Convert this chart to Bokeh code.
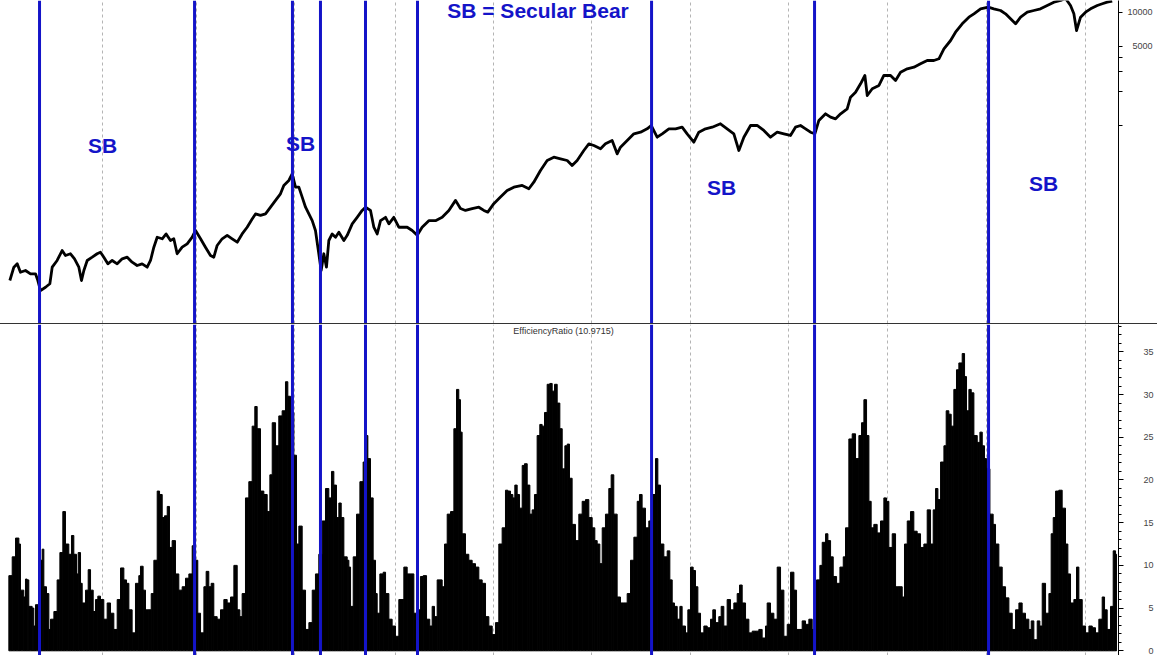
from bokeh.plotting import figure
from bokeh.models import Range1d, Span, FixedTicker, SingleIntervalTicker, BasicTickFormatter, ColumnDataSource, Label, Div
from bokeh.layouts import column
from bokeh.embed import file_html
from bokeh.resources import INLINE

BLUE = "#1414c8"
FONT = "Liberation Sans"

# ---- Dow Jones Industrial Average (log scale) ----
dow_years = [
    1900.57, 1900.98, 1901.32, 1901.65, 1902.16, 1902.67, 1903.18, 1903.42, 1903.69, 1904.20,
    1904.64, 1904.88, 1905.38, 1905.89, 1906.23, 1906.74, 1907.15, 1907.59, 1907.86, 1908.10,
    1908.44, 1908.95, 1909.45, 1909.79, 1910.13, 1910.54, 1910.98, 1911.49, 1912.00, 1912.51,
    1913.01, 1913.52, 1914.03, 1914.54, 1914.88, 1915.22, 1915.56, 1916.07, 1916.47, 1916.91,
    1917.25, 1917.59, 1918.10, 1918.61, 1919.12, 1919.46, 1919.97, 1920.47, 1920.98, 1921.32,
    1921.66, 1922.17, 1922.68, 1923.19, 1923.70, 1924.20, 1924.71, 1925.22, 1925.56, 1926.07,
    1926.58, 1927.09, 1927.60, 1928.10, 1928.44, 1928.95, 1929.29, 1929.63, 1929.97, 1930.31,
    1930.65, 1930.99, 1931.33, 1931.66, 1932.00, 1932.24, 1932.51, 1932.78, 1933.02, 1933.36,
    1933.70, 1934.04, 1934.55, 1934.89, 1935.40, 1935.90, 1936.41, 1936.75, 1937.26, 1937.60,
    1937.94, 1938.28, 1938.79, 1939.13, 1939.63, 1940.14, 1940.99, 1941.50, 1942.01, 1942.51,
    1943.19, 1943.87, 1944.55, 1945.23, 1945.91, 1946.41, 1946.92, 1947.60, 1948.28, 1948.79,
    1949.19, 1949.80, 1950.48, 1951.16, 1951.84, 1952.69, 1953.37, 1953.87, 1954.55, 1955.23,
    1955.91, 1956.59, 1957.27, 1957.77, 1958.28, 1958.96, 1959.47, 1959.98, 1960.66, 1961.16,
    1961.84, 1962.35, 1962.69, 1963.37, 1964.05, 1964.73, 1965.40, 1965.81, 1966.42, 1966.93,
    1967.61, 1968.29, 1968.96, 1969.47, 1970.15, 1970.66, 1971.34, 1972.02, 1972.86, 1973.54,
    1974.22, 1974.73, 1975.24, 1975.92, 1976.59, 1977.27, 1977.95, 1978.63, 1979.31, 1979.98,
    1980.49, 1981.00, 1981.52, 1982.02, 1982.46, 1982.87, 1983.55, 1984.06, 1984.57, 1985.08,
    1985.75, 1986.09, 1986.60, 1987.11, 1987.55, 1987.79, 1988.30, 1988.98, 1989.48, 1990.16,
    1990.67, 1991.18, 1991.86, 1992.54, 1993.21, 1993.89, 1994.57, 1995.08, 1995.59, 1996.27,
    1996.77, 1997.45, 1998.13, 1998.64, 1999.32, 2000.10, 2000.67, 2001.35, 2001.86, 2002.37,
    2002.88, 2003.39, 2004.07, 2004.74, 2005.42, 2006.10, 2006.78, 2007.46, 2007.96, 2008.47,
    2008.81, 2009.08, 2009.49, 2010.00, 2010.51, 2011.19, 2011.70, 2012.20, 2012.71,
]
dow_values = [
    42.2, 55.4, 59.3, 50.0, 51.8, 48.4, 48.4, 42.2, 34.4, 36.8,
    39.5, 55.4, 63.5, 77.8, 70.3, 72.8, 65.7, 55.4, 42.2, 51.8,
    63.5, 67.9, 72.8, 75.2, 67.9, 59.3, 63.5, 59.3, 65.7, 67.9,
    61.3, 57.3, 59.3, 55.4, 63.5, 83.2, 102, 98.8, 109, 95.4,
    98.8, 72.8, 83.2, 89.2, 102, 117, 98.8, 83.2, 70.3, 67.9,
    86.2, 98.8, 106, 98.8, 92.2, 109, 125, 148, 164, 159,
    164, 188, 216, 247, 293, 324, 371, 283, 283, 231,
    188, 164, 143, 117, 72.8, 51.8, 72.8, 55.4, 95.4, 109,
    102, 113, 95.4, 106, 134, 153, 176, 188, 176, 125,
    109, 143, 153, 134, 153, 125, 125, 117, 106, 125,
    143, 143, 153, 176, 216, 183, 176, 183, 188, 176,
    170, 202, 231, 264, 283, 293, 274, 313, 397, 487,
    521, 504, 487, 440, 487, 597, 684, 661, 618, 684,
    732, 558, 639, 732, 839, 867, 929, 994, 783, 839,
    929, 929, 960, 839, 707, 867, 929, 960, 1029, 929,
    839, 597, 783, 994, 994, 898, 783, 867, 839, 811,
    960, 994, 929, 867, 839, 1101, 1261, 1177, 1139, 1261,
    1397, 1769, 1959, 2324, 2753, 1831, 2100, 2246, 2753, 2753,
    2486, 2944, 3156, 3260, 3494, 3737, 3737, 3869, 4745, 5617,
    6653, 7896, 9031, 9678, 10715, 11070, 10715, 10351, 9678, 8743,
    7896, 9031, 10000, 10351, 10715, 11463, 12260, 12690, 13240, 11463,
    9678, 6887, 9031, 10000, 10715, 11463, 11866, 12260, 12510,
]

# ---- Efficiency Ratio histogram ----
er_years = [
    1900.47, 1900.81, 1901.15, 1901.49, 1901.65, 1901.99, 1902.16, 1902.33, 1902.50, 1902.84,
    1903.01, 1903.18, 1903.52, 1903.86, 1904.03, 1904.30, 1904.54, 1904.71, 1905.05, 1905.38,
    1905.66, 1905.96, 1906.23, 1906.57, 1906.84, 1907.08, 1907.35, 1907.52, 1907.76, 1907.93,
    1908.27, 1908.54, 1908.78, 1909.05, 1909.28, 1909.52, 1909.79, 1910.13, 1910.47, 1910.81,
    1911.15, 1911.49, 1911.83, 1912.17, 1912.44, 1912.68, 1913.01, 1913.35, 1913.69, 1913.86,
    1914.13, 1914.37, 1914.71, 1914.95, 1915.22, 1915.56, 1915.80, 1916.07, 1916.30, 1916.58,
    1916.81, 1917.08, 1917.42, 1917.76, 1918.10, 1918.44, 1918.78, 1919.12, 1919.46, 1919.69,
    1919.97, 1920.31, 1920.54, 1920.81, 1921.05, 1921.32, 1921.66, 1922.00, 1922.34, 1922.68,
    1923.02, 1923.36, 1923.70, 1923.97, 1924.20, 1924.54, 1924.88, 1925.22, 1925.49, 1925.73,
    1926.07, 1926.41, 1926.75, 1927.02, 1927.26, 1927.60, 1927.93, 1928.27, 1928.61, 1928.85,
    1929.12, 1929.46, 1929.73, 1929.97, 1930.31, 1930.65, 1930.99, 1931.33, 1931.66, 1932.00,
    1932.34, 1932.68, 1933.02, 1933.29, 1933.53, 1933.80, 1934.04, 1934.28, 1934.55, 1934.89,
    1935.06, 1935.23, 1935.50, 1935.84, 1936.18, 1936.51, 1936.75, 1936.99, 1937.26, 1937.53,
    1937.77, 1937.94, 1938.21, 1938.55, 1938.79, 1939.13, 1939.46, 1939.80, 1940.14,
    1940.65, 1940.99, 1941.33, 1941.67, 1942.01, 1942.34, 1942.62, 1942.96, 1943.29, 1943.53,
    1943.77, 1944.04, 1944.31, 1944.55, 1944.79, 1945.06, 1945.40, 1945.74, 1946.01, 1946.24,
    1946.41, 1946.58, 1946.92, 1947.26, 1947.60, 1947.94, 1948.28, 1948.62, 1948.96, 1949.30,
    1949.64, 1949.97, 1950.31, 1950.65, 1950.99, 1951.23, 1951.50, 1951.74, 1951.94, 1952.18,
    1952.42, 1952.69, 1952.92, 1953.20, 1953.47, 1953.70, 1953.94, 1954.21, 1954.48, 1954.72,
    1954.96, 1955.23, 1955.50, 1955.74, 1955.98, 1956.25, 1956.52, 1956.76, 1957.03, 1957.27,
    1957.50, 1957.77, 1958.11, 1958.45, 1958.79, 1959.13, 1959.47, 1959.81, 1960.08, 1960.32,
    1960.59, 1960.83, 1961.16, 1961.50, 1961.74, 1962.01, 1962.35, 1962.69, 1963.03, 1963.37,
    1963.71, 1964.05, 1964.39, 1964.62, 1964.89, 1965.23, 1965.57, 1965.91, 1966.25, 1966.49,
    1966.76, 1967.10, 1967.44, 1967.71, 1967.95, 1968.18, 1968.46, 1968.73, 1968.96, 1969.30,
    1969.54, 1969.81, 1970.08, 1970.32, 1970.56, 1970.83, 1971.17, 1971.51, 1971.85, 1972.08,
    1972.35, 1972.69, 1972.93, 1973.20, 1973.54, 1973.88, 1974.22, 1974.56, 1974.80, 1975.07,
    1975.41, 1975.75, 1976.09, 1976.42, 1976.76, 1977.10, 1977.44, 1977.61, 1977.95, 1978.29,
    1978.63,
    1978.97, 1979.31, 1979.65, 1979.99, 1980.33, 1980.60, 1980.94, 1981.17, 1981.51, 1981.85,
    1982.19, 1982.63, 1982.97, 1983.21, 1983.55, 1983.79, 1984.06, 1984.33, 1984.67, 1985.01,
    1985.35, 1985.58, 1985.92, 1986.26, 1986.60, 1986.94, 1987.21, 1987.45, 1987.72, 1987.96,
    1988.19, 1988.46, 1988.80, 1989.14, 1989.48, 1989.75, 1989.99, 1990.33, 1990.67, 1991.01,
    1991.35, 1991.58, 1991.86, 1992.19, 1992.53, 1992.87, 1993.21, 1993.55, 1993.89, 1994.23,
    1994.50, 1994.74, 1994.98, 1995.25, 1995.59, 1995.82, 1996.09, 1996.33, 1996.60, 1996.87,
    1997.11, 1997.45, 1997.69, 1997.89, 1998.13, 1998.37, 1998.64, 1998.98, 1999.25, 1999.49,
    1999.72, 1999.93, 2000.27, 2000.60, 2000.84, 2001.18, 2001.52, 2001.86, 2002.20, 2002.54,
    2002.88, 2003.22, 2003.55, 2003.89, 2004.23, 2004.47, 2004.74, 2005.08, 2005.35, 2005.59,
    2005.93, 2006.27, 2006.50, 2006.71, 2006.95, 2007.28, 2007.62, 2007.96, 2008.20, 2008.47,
    2008.81, 2009.08, 2009.32, 2009.66, 2010.00, 2010.34, 2010.68, 2011.01, 2011.35, 2011.69,
    2011.93, 2012.20, 2012.54, 2012.81, 2013.05,
]
er_values = [
    8.8, 11.0, 13.2, 12.5, 7.1, 6.3, 8.4, 8.3, 5.2, 5.0,
    2.9, 5.4, 10.6, 11.9, 7.5, 6.7, 2.5, 3.7, 4.6, 8.3,
    11.5, 16.3, 12.5, 11.3, 13.5, 11.3, 9.0, 11.5, 7.9, 5.6,
    7.1, 9.5, 7.1, 4.6, 6.0, 6.4, 6.0, 3.7, 5.6, 4.4,
    2.5, 6.0, 9.7, 8.3, 7.9, 4.8, 2.1, 7.9, 8.8, 9.9,
    7.1, 4.8, 4.8, 6.7, 10.6, 18.7, 18.3, 15.6, 15.8, 16.9,
    12.1, 12.9, 9.0, 7.1, 7.5, 8.5, 9.0, 12.3, 10.6, 4.4,
    2.1, 7.5, 9.3, 7.5, 7.9, 4.0, 3.7, 4.8, 6.0, 5.6,
    6.3, 10.0, 4.8, 4.0, 6.7, 17.9, 19.8, 26.3, 28.6, 26.0,
    18.7, 18.3, 16.3, 20.6, 26.7, 24.0, 27.5, 28.1, 31.5, 29.8,
    27.9, 22.9, 12.5, 14.6, 7.1, 2.5, 3.3, 7.1, 9.0, 11.3,
    15.2, 19.0, 17.9, 21.0, 19.4, 15.6, 17.3, 15.6, 11.0, 10.6,
    9.8, 5.2, 11.0, 16.0, 19.8, 22.1, 25.2, 22.5, 17.9, 10.6,
    6.7, 4.4, 9.0, 9.2, 6.7, 3.7, 2.9, 1.7, 6.0,
    9.8, 9.0, 9.0, 4.4, 4.8, 8.7, 8.8, 3.7, 2.9, 5.2,
    4.0, 8.3, 8.3, 7.5, 12.5, 16.0, 16.3, 26.0, 30.6, 29.4,
    25.6, 13.7, 11.3, 10.6, 10.2, 9.8, 8.3, 7.9, 4.0, 2.9,
    1.9, 3.3, 12.5, 14.4, 18.8, 18.7, 18.3, 17.9, 19.4, 18.3,
    16.7, 21.7, 21.9, 19.4, 16.0, 16.5, 18.3, 25.2, 26.5, 26.3,
    27.9, 31.2, 31.3, 30.4, 31.2, 29.0, 26.0, 21.3, 24.0, 24.2,
    20.2, 14.8, 12.9, 16.0, 17.5, 17.7, 15.6, 14.4, 12.9, 12.5,
    10.2, 14.4, 16.0, 19.0, 20.6, 16.0, 6.3, 5.6, 5.6, 6.7,
    10.6, 13.3, 17.5, 18.3, 16.7, 14.4, 15.2, 18.3, 22.5, 19.4,
    12.5, 11.0, 11.7, 8.3, 5.6, 5.2, 3.7, 5.2, 2.9, 2.1,
    4.8, 9.8, 9.4, 7.5, 4.4, 2.1, 2.9, 2.7, 3.7, 4.8,
    3.3, 4.0, 5.2, 2.9, 6.0, 4.8, 5.6, 6.7, 7.7, 5.6,
    3.7, 2.1, 2.3, 2.3, 2.5, 1.5, 2.9, 5.6, 4.4, 3.7,
    9.8,
    7.1, 1.7, 3.1, 9.2, 7.1, 2.5, 2.5, 3.5, 3.1, 3.7,
    2.5, 8.3, 10.0, 12.7, 13.7, 12.9, 11.0, 8.7, 7.9, 9.8,
    11.0, 14.4, 24.8, 25.4, 22.5, 25.2, 26.7, 29.4, 25.2, 17.5,
    14.4, 14.8, 13.8, 15.2, 17.9, 17.5, 12.1, 13.7, 7.5, 7.5,
    6.3, 12.5, 15.2, 16.3, 14.0, 13.7, 12.1, 12.5, 16.5, 12.5,
    16.5, 19.0, 17.7, 22.1, 24.0, 28.1, 27.7, 26.3, 30.6, 32.9,
    33.7, 34.8, 32.1, 28.1, 30.6, 30.2, 25.2, 24.4, 25.6, 24.0,
    22.5, 21.3, 16.0, 14.8, 12.5, 9.8, 7.5, 6.2, 4.4, 2.5,
    4.8, 5.6, 4.4, 3.7, 2.5, 3.5, 1.3, 3.5, 2.9, 7.9,
    4.4, 6.7, 13.7, 15.6, 18.7, 18.8, 16.7, 12.5, 9.0, 5.6,
    6.0, 9.8, 6.0, 2.9, 2.1, 2.9, 2.7, 2.1, 3.7, 6.3,
    4.8, 2.5, 5.2, 11.7, 11.3,
]
er_last_end = 2013.15

# ---- markers ----
secular_marks = [1903.59, 1919.36, 1929.32, 1932.17, 1936.75, 1942.04, 1965.85, 1982.43, 2000.13]
decade_marks = [1910.0, 1919.51, 1929.48, 1939.80, 1949.77, 1959.74, 1969.81, 1979.78, 1989.85, 1999.92, 2009.99]
price_ticks = [1000, 2000, 3000, 4000, 5000, 10000]
er_title = "EfficiencyRatio (10.9715)"

FIG = "\u2007"  # figure space, digit-wide, to right-align labels

xr = Range1d(1899.62, 2013.35)

def style_common(p):
    p.outline_line_color = None
    p.background_fill_color = "white"
    p.border_fill_color = "white"
    p.xgrid.ticker = FixedTicker(ticks=decade_marks)
    p.xgrid.grid_line_color = "#b4b4b4"
    p.xgrid.grid_line_dash = "3 3"
    p.xgrid.grid_line_width = 1
    p.ygrid.visible = False
    ax = p.yaxis[0]
    ax.axis_line_color = "black"
    ax.axis_line_width = 1
    ax.major_tick_line_color = "black"
    ax.minor_tick_line_color = "black"
    ax.major_tick_in = 0
    ax.minor_tick_in = 0
    ax.major_label_text_font = FONT
    ax.major_label_text_font_size = "9px"
    ax.major_label_text_color = "#444444"

# ---------------- top panel ----------------
top = figure(frame_width=1118, frame_height=323, x_range=xr, y_range=Range1d(17.58, 12690),
             y_axis_type="log", y_axis_location="right", x_axis_location=None,
             toolbar_location=None, output_backend="svg",
             min_border_left=0, min_border_top=0, min_border_bottom=0, min_border_right=4)
style_common(top)
tax = top.yaxis[0]
tax.ticker = FixedTicker(ticks=price_ticks)
tax.formatter = BasicTickFormatter(use_scientific=False)
tax.major_label_overrides = {1000: "", 2000: "", 3000: "", 4000: "", 5000: FIG + "5000"}
tax.major_tick_out = 4
tax.minor_tick_out = 0
tax.major_label_standoff = 5

top.line(dow_years, dow_values, line_color="black", line_width=2.8, line_join="round")

for m in secular_marks:
    top.add_layout(Span(location=m, dimension="height", line_color=BLUE, line_width=3))

def sb(p, x, y, t):
    p.add_layout(Label(x=x, y=y, text=t, text_font=FONT, text_font_style="bold",
                       text_font_size="21px", text_color=BLUE,
                       text_align="center", text_baseline="middle"))

sb(top, 1910.0, 661, "SB")
sb(top, 1930.14, 689, "SB")
sb(top, 1954.30, 10247, "SB = Secular Bear")
sb(top, 1972.97, 283, "SB")
sb(top, 2005.72, 306, "SB")

# separator between the panels, running past the price axis
sep = Div(text="", width=1157, height=1, margin=0,
          styles={"background-color": "#333333"})

# ---------------- bottom panel ----------------
bot = figure(frame_width=1118, frame_height=331, x_range=xr, y_range=Range1d(-0.55, 38.2),
             y_axis_location="right", x_axis_location=None,
             toolbar_location=None, output_backend="svg",
             min_border_left=0, min_border_top=0, min_border_bottom=0, min_border_right=4)
style_common(bot)
bax = bot.yaxis[0]
bax.ticker = SingleIntervalTicker(interval=5, num_minor_ticks=5)
bax.major_tick_out = 5
bax.minor_tick_out = 3
bax.major_label_standoff = 20
bax.major_label_overrides = {0: FIG + "0", 5: FIG + "5"}

src = ColumnDataSource(dict(left=er_years, right=er_years[1:] + [er_last_end], top=er_values))
bot.quad(left="left", right="right", bottom=0, top="top", source=src,
         fill_color="black", line_color="black", line_width=1.0)

for m in secular_marks:
    bot.add_layout(Span(location=m, dimension="height", line_color=BLUE, line_width=3))

bot.add_layout(Label(x=1956.89, y=37.4, text=er_title, text_font=FONT, text_font_size="9px",
                     text_color="#333333", text_align="center", text_baseline="middle"))

layout = column(top, sep, bot, spacing=0)
open("out.html", "w").write(file_html(layout, INLINE))
